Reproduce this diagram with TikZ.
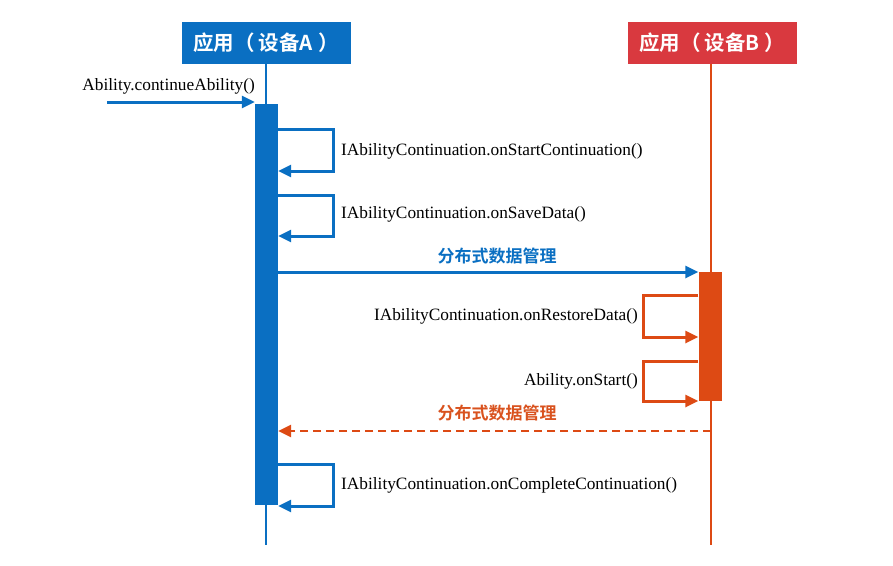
\documentclass[tikz,border=0pt]{standalone}
\usepackage{fontspec}
\setmainfont{Liberation Serif}
\newfontfamily\cjk{Noto Sans CJK SC}[BoldFont={* Bold}]
\usetikzlibrary{arrows.meta}
\definecolor{cblue}{HTML}{0A6FC2}
\definecolor{cred}{HTML}{D9393F}
\definecolor{corange}{HTML}{DD4A14}
\definecolor{corangetxt}{HTML}{D9521E}
\tikzset{
  hdr/.style={minimum width=169pt, minimum height=42pt, inner sep=0pt, text=white, font=\cjk\bfseries\fontsize{20.5}{23}\selectfont},
  bar/.style={minimum width=23pt, inner sep=0pt, draw=none},
  lblue/.style={cblue, line width=3pt, -{Triangle[length=13pt,width=12pt]}},
  lorange/.style={corange, line width=3pt, -{Triangle[length=13pt,width=12pt]}},
  life/.style={line width=2.5pt},
  msg/.style={font=\fontsize{17.3}{20}\selectfont, inner sep=0pt},
  cmsg/.style={font=\cjk\bfseries\fontsize{17}{20}\selectfont, inner sep=0pt},
}
\begin{document}
\begin{tikzpicture}[x=1pt,y=-1pt]
\useasboundingbox (0,0) rectangle (893,565);
% headers
\node[hdr, fill=cblue] (hA) at (266,43) {应用（\hspace{4pt}设备A\hspace{5pt}）};
\node[hdr, fill=cred] (hB) at (712,43) {应用（\hspace{4pt}设备B\hspace{5pt}）};
% lifelines
\coordinate (eA) at (266,545);
\coordinate (eB) at (711,545);
\draw[life, cblue] (hA.south) -- (eA);
\draw[life, corange] (hB.south -| eB) -- (eB);
% activation bars
\node[bar, fill=cblue, minimum height=401pt, anchor=north] (aA) at (266.5,104) {};
\node[bar, fill=corange, minimum height=129pt, anchor=north] (aB) at (710,272) {};
% incoming
\coordinate (in) at (107,102);
\draw[lblue] (in) -- (aA.west |- in);
\node[msg, anchor=east] (tin) at (255,86) {Ability.continueAbility()};
% self loops A
\coordinate (a1s) at (aA.east |- 0,129);
\coordinate (a1e) at (aA.east |- 0,171);
\draw[lblue] (a1s) -- (333,129) -- (333,171) -- (a1e);
\node[msg, anchor=west] (t1) at (341,151) {IAbilityContinuation.onStartContinuation()};
\coordinate (a2s) at (aA.east |- 0,195);
\coordinate (a2e) at (aA.east |- 0,236);
\draw[lblue] (a2s) -- (333,195) -- (333,236) -- (a2e);
\node[msg, anchor=west] (t2) at (341,214) {IAbilityContinuation.onSaveData()};
% message A -> B
\coordinate (m1s) at (aA.east |- aB.north);
\draw[lblue] (m1s) -- (aB.north west);
\node[cmsg, text=cblue] (tm1) at (497,256) {分布式数据管理};
% self loops B
\coordinate (b1s) at (aB.west |- 0,295);
\coordinate (b1e) at (aB.west |- 0,337);
\draw[lorange] (b1s) -- (643,295) -- (643,337) -- (b1e);
\node[msg, anchor=east] (t3) at (638,316) {IAbilityContinuation.onRestoreData()};
\coordinate (b2s) at (aB.west |- 0,361);
\coordinate (b2e) at (aB.west |- 0,401);
\draw[lorange] (b2s) -- (643,361) -- (643,401) -- (b2e);
\node[msg, anchor=east] (t4) at (638,381) {Ability.onStart()};
% return B -> A
\coordinate (r1s) at (eB |- 0,431);
\draw[lorange, line width=2.8pt, dash pattern=on 8pt off 5pt] (r1s) -- (aA.east |- r1s);
\node[cmsg, text=corangetxt] (tm2) at (497,413) {分布式数据管理};
% self loop A3
\coordinate (a3s) at (aA.east |- 0,464);
\coordinate (a3e) at (aA.east |- 0,506);
\draw[lblue] (a3s) -- (333,464) -- (333,506) -- (a3e);
\node[msg, anchor=west] (t5) at (341,485) {IAbilityContinuation.onCompleteContinuation()};
\end{tikzpicture}
\end{document}
